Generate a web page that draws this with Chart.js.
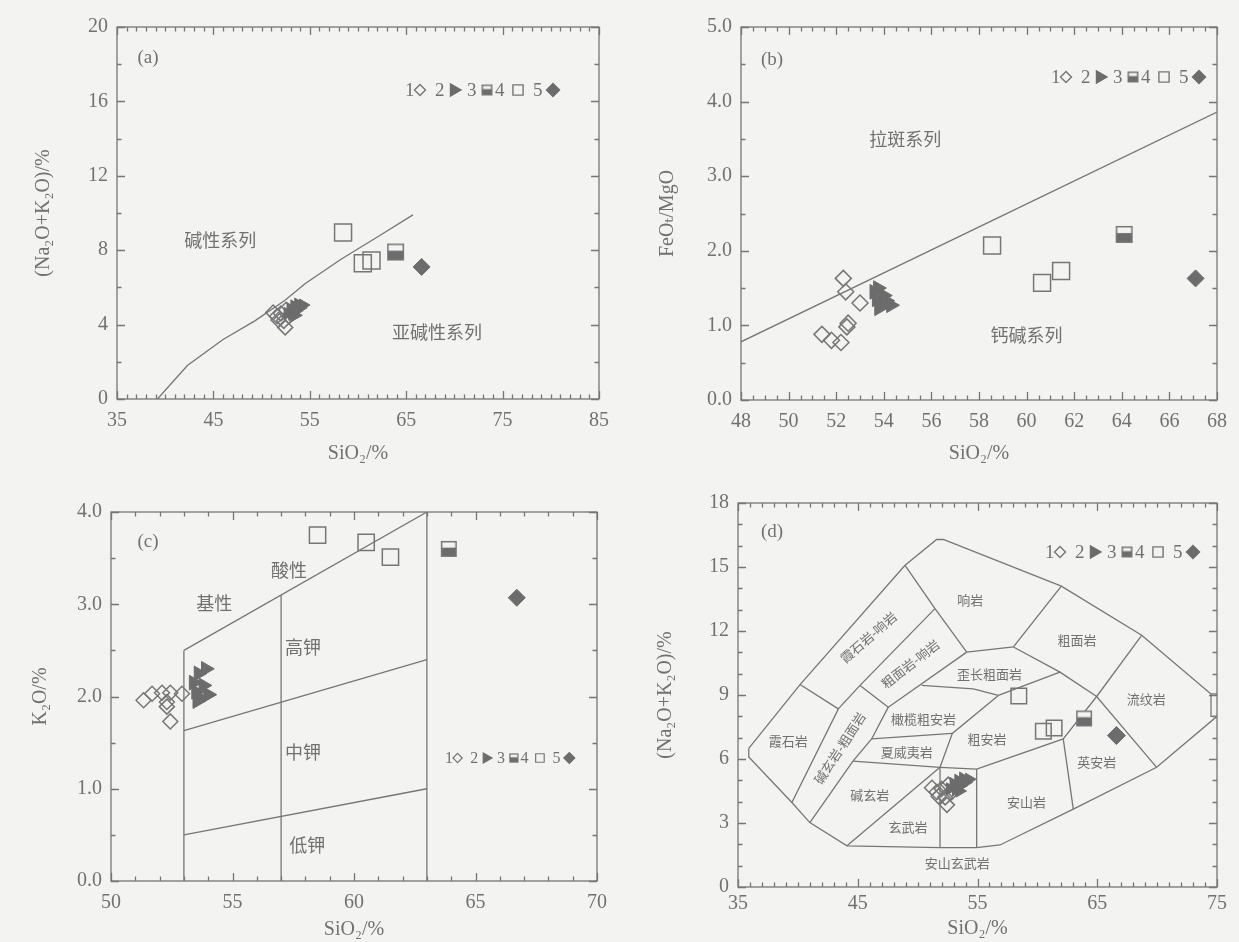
<!DOCTYPE html>
<html>
<head>
<meta charset="utf-8">
<title>SiO2 判别图</title>
<script src="https://cdn.jsdelivr.net/npm/chart.js@4/dist/chart.umd.min.js"></script>
<style>
  html, body { margin: 0; padding: 0; background: #f3f3f1; }
  #wrap { position: relative; width: 1239px; height: 942px; overflow: hidden; }
  canvas { position: absolute; display: block; }
</style>
</head>
<body>
<div id="wrap">
  <canvas id="pa" width="620" height="471" style="left:0;top:0;width:620px;height:471px"></canvas>
  <canvas id="pb" width="619" height="471" style="left:620px;top:0;width:619px;height:471px"></canvas>
  <canvas id="pc" width="620" height="471" style="left:0;top:471px;width:620px;height:471px"></canvas>
  <canvas id="pd" width="619" height="471" style="left:620px;top:471px;width:619px;height:471px"></canvas>
</div>
<script>
// ---------------- sample values: [SiO2 %, value] ----------------
// groups: 1 open diamond, 2 triangle, 3 half-filled square, 4 open square, 5 filled diamond

// SiO2 vs Na2O+K2O (panels a and d)
const alkG1 = [[51.2, 4.65], [51.6, 4.45], [51.75, 4.25], [52.0, 4.6], [52.3, 4.2], [52.45, 3.85], [52.55, 4.8], [52.85, 4.45]];
const alkG2 = [[52.7, 4.6], [53.0, 4.85], [53.2, 4.55], [53.4, 5.0], [53.6, 4.75], [53.8, 5.1], [54.0, 4.9], [54.3, 5.05], [53.5, 4.5]];
const alkG3 = [[63.9, 7.9]];
const alkG4 = [[58.45, 8.95], [60.5, 7.3], [61.4, 7.45]];
const alkG5 = [[66.6, 7.1]];

// SiO2 vs FeOt/MgO (panel b)
const feoG1 = [[52.3, 1.63], [52.4, 1.45], [53.0, 1.30], [52.5, 1.03], [52.45, 0.98], [51.4, 0.88], [51.8, 0.80], [52.2, 0.77]];
const feoG2 = [[53.6, 1.45], [53.7, 1.35], [53.75, 1.5], [53.9, 1.28], [54.0, 1.4], [54.1, 1.33], [54.3, 1.27], [53.8, 1.23]];
const feoG3 = [[64.1, 2.22]];
const feoG4 = [[58.55, 2.07], [60.65, 1.57], [61.45, 1.73]];
const feoG5 = [[67.1, 1.63]];

// SiO2 vs K2O (panel c)
const k2oG1 = [[51.34, 1.96], [51.69, 2.03], [52.1, 2.04], [52.44, 2.04], [52.92, 2.03], [52.3, 1.94], [52.3, 1.89], [52.44, 1.73]];
const k2oG2 = [[53.4, 2.15], [53.5, 2.05], [53.6, 2.25], [53.7, 1.98], [53.8, 2.12], [53.9, 2.3], [54.0, 2.02], [53.55, 1.95]];
const k2oG3 = [[63.9, 3.6]];
const k2oG4 = [[58.5, 3.75], [60.5, 3.67], [61.5, 3.51]];
const k2oG5 = [[66.7, 3.07]];

// ---------------- classification boundaries ----------------
// (a) alkaline / subalkaline divide
const alkDivide = [[39.2, 0], [42.3, 1.8], [46, 3.2], [49.3, 4.2], [52.4, 5.3], [54.5, 6.2], [58.2, 7.5], [62.3, 8.8], [65.7, 9.9]];
// (b) tholeiitic / calc-alkaline divide
const feoDivide = [[48, 0.78], [68, 3.86]];
// (c) K2O series fields
const kTop = [[53, 2.5], [63, 4.0]];
const kHigh = [[53, 1.63], [63, 2.4]];
const kLow = [[53, 0.5], [63, 1.0]];
const kV53 = [[53, 0], [53, 2.5]];
const kV57 = [[57, 0], [57, 3.1]];
const kV63 = [[63, 0], [63, 4.0]];
// (d) TAS fields
const tasOuter = [[35.9, 6.5], [40.18, 9.49], [48.95, 15.08], [51.59, 16.29], [52.15, 16.29], [62.0, 14.1], [68.71, 11.8],
                  [74.5, 9.05], [74.5, 8.0], [75, 8.0], [69.96, 5.61], [63.0, 3.65], [56.88, 1.97], [54.93, 1.85], [51.87, 1.85],
                  [44.1, 1.93], [41.0, 3.02], [39.5, 3.96], [35.9, 6.1], [35.9, 6.5]];
const tasNotch = [[74.5, 9.05], [75, 9.05]];
const tasLines = [
  [[48.95, 15.08], [51.45, 13.05], [54.1, 11.01]],
  [[54.1, 11.01], [58.0, 11.25], [62.0, 14.1]],
  [[58.0, 11.25], [61.89, 10.07], [64.95, 8.93], [69.96, 5.61]],
  [[64.95, 8.93], [68.71, 11.8]],
  [[51.45, 13.05], [45.19, 9.45], [43.38, 8.35], [39.5, 3.96]],
  [[40.18, 9.49], [43.38, 8.35]],
  [[45.19, 9.45], [47.55, 8.43], [54.1, 11.01]],
  [[47.55, 8.43], [46.16, 6.94], [44.6, 5.9], [41.0, 3.02]],
  [[50.34, 9.45], [54.65, 9.29], [56.74, 8.98]],
  [[56.74, 8.98], [61.89, 10.07]],
  [[56.74, 8.98], [52.9, 7.2], [51.87, 5.61]],
  [[46.16, 6.94], [52.9, 7.2]],
  [[44.6, 5.9], [51.87, 5.61]],
  [[51.87, 5.61], [54.93, 5.53], [62.16, 6.94], [64.95, 8.93]],
  [[62.16, 6.94], [63.0, 3.65]],
  [[51.87, 5.61], [51.87, 1.85]],
  [[54.93, 5.53], [54.93, 1.85]],
  [[51.87, 5.61], [44.1, 1.93]]
];

// ---------------- field names ----------------
const labelsA = [{ t: '碱性系列', x: 45.7, y: 8.55 }, { t: '亚碱性系列', x: 68.2, y: 3.6 }];
const labelsB = [{ t: '拉斑系列', x: 54.9, y: 3.49 }, { t: '钙碱系列', x: 60.0, y: 0.87 }];
const labelsC = [{ t: '基性', x: 54.25, y: 3.01 }, { t: '酸性', x: 57.33, y: 3.37 }, { t: '高钾', x: 57.9, y: 2.54 },
                 { t: '中钾', x: 57.9, y: 1.40 }, { t: '低钾', x: 58.08, y: 0.39 }];
const labelsD = [
  { t: '响岩', x: 54.4, y: 13.45 }, { t: '霞石岩-响岩', x: 45.9, y: 11.7, r: -41 }, { t: '粗面岩-响岩', x: 49.4, y: 10.45, r: -38 },
  { t: '粗面岩', x: 63.3, y: 11.56 }, { t: '歪长粗面岩', x: 56.0, y: 9.99 }, { t: '流纹岩', x: 69.1, y: 8.82 },
  { t: '橄榄粗安岩', x: 50.5, y: 7.88 }, { t: '霞石岩', x: 39.2, y: 6.86 }, { t: '碱玄岩-粗面岩', x: 43.5, y: 6.5, r: -57 },
  { t: '粗安岩', x: 55.8, y: 6.94 }, { t: '夏威夷岩', x: 49.1, y: 6.31 }, { t: '英安岩', x: 64.95, y: 5.84 },
  { t: '碱玄岩', x: 46.0, y: 4.3 }, { t: '安山岩', x: 59.1, y: 3.96 }, { t: '玄武岩', x: 49.2, y: 2.8 },
  { t: '安山玄武岩', x: 53.3, y: 1.14 }
];

// ---------------- styling ----------------
const BG = '#f3f3f1';
const INK = '#767676';
const FILL = '#6c6c6c';
const TEXT = '#717171';
const SERIF = "'Liberation Serif', 'DejaVu Serif', 'DejaVu Sans', serif";
const CJK = "'Noto Sans CJK SC', 'Noto Sans', sans-serif";
const NUM = 20;

function halfSquare(side) {
  const s = Math.ceil(side) + 2;
  const c = document.createElement('canvas');
  c.width = s; c.height = s;
  const g = c.getContext('2d');
  g.fillStyle = BG; g.fillRect(1, 1, side, side);
  g.fillStyle = FILL; g.fillRect(1, 1 + side * 0.42, side, side * 0.58);
  g.strokeStyle = INK; g.lineWidth = 1.5;
  g.strokeRect(1.75, 1.75, side - 1.5, side - 1.5);
  return c;
}

const pts = arr => arr.map(([x, y]) => ({ x, y }));

function markerSets(g1, g2, g3, g4, g5, sz) {
  return [
    { data: pts(g5), pointStyle: 'rectRot', pointRadius: sz.f, pointBackgroundColor: FILL, pointBorderColor: FILL, pointBorderWidth: 1 },
    { data: pts(g4), pointStyle: 'rect', pointRadius: sz.s, pointBackgroundColor: 'rgba(0,0,0,0)', pointBorderColor: INK, pointBorderWidth: 1.5 },
    { data: pts(g3), pointStyle: halfSquare(sz.h), pointRadius: sz.h / 2 },
    { data: pts(g2), pointStyle: 'triangle', pointRotation: 90, pointRadius: sz.t, pointBackgroundColor: FILL, pointBorderColor: FILL, pointBorderWidth: 1 },
    { data: pts(g1), pointStyle: 'rectRot', pointRadius: sz.d, pointBackgroundColor: 'rgba(0,0,0,0)', pointBorderColor: INK, pointBorderWidth: 1.5 }
  ];
}

function lineSet(poly) {
  return { data: pts(poly), showLine: true, pointRadius: 0, borderColor: INK, borderWidth: 1.3, tension: 0, fill: false };
}

// frame with inward major / minor ticks on all four sides
const frameTicks = {
  id: 'frameTicks',
  afterDatasetsDraw(chart, args, o) {
    const { ctx, chartArea: a, scales: { x, y } } = chart;
    const isMajor = (v, base, step) => Math.abs((v - base) / step - Math.round((v - base) / step)) < 1e-6;
    ctx.save();
    ctx.strokeStyle = INK;
    ctx.lineWidth = 1.3;
    ctx.strokeRect(a.left, a.top, a.right - a.left, a.bottom - a.top);
    ctx.beginPath();
    for (let i = 0; ; i++) {
      const v = x.min + i * o.xMinor;
      if (v > x.max + 1e-9) break;
      const len = isMajor(v, x.min, o.xMajor) ? 8 : 4.5;
      const px = Math.round(x.getPixelForValue(v)) + 0.5;
      ctx.moveTo(px, a.bottom); ctx.lineTo(px, a.bottom - len);
      ctx.moveTo(px, a.top); ctx.lineTo(px, a.top + len);
    }
    for (let i = 0; ; i++) {
      const v = y.min + i * o.yMinor;
      if (v > y.max + 1e-9) break;
      const len = isMajor(v, y.min, o.yMajor) ? 8 : 4.5;
      const py = Math.round(y.getPixelForValue(v)) + 0.5;
      ctx.moveTo(a.left, py); ctx.lineTo(a.left + len, py);
      ctx.moveTo(a.right, py); ctx.lineTo(a.right - len, py);
    }
    ctx.stroke();
    ctx.restore();
  }
};

// field names, panel tag and the symbol key
const annotate = {
  id: 'annotate',
  afterDatasetsDraw(chart, args, o) {
    const { ctx, scales: { x, y } } = chart;
    ctx.save();
    ctx.fillStyle = TEXT;
    ctx.textAlign = 'center';
    ctx.textBaseline = 'middle';
    (o.labels || []).forEach(l => {
      ctx.save();
      ctx.translate(x.getPixelForValue(l.x), y.getPixelForValue(l.y));
      if (l.r) ctx.rotate(l.r * Math.PI / 180);
      ctx.font = o.labelSize + 'px ' + CJK;
      ctx.fillText(l.t, 0, 0);
      ctx.restore();
    });
    ctx.font = '19px ' + SERIF;
    ctx.fillText(o.tag, o.tagX, o.tagY);

    // key: 1◇ 2▶ 3◪ 4□ 5◆
    ctx.save();
    ctx.translate(o.keyX, o.keyY);
    ctx.scale(o.keyScale || 1, o.keyScale || 1);
    ctx.font = '19px ' + SERIF;
    ctx.textAlign = 'left';
    const textX = [0, 30, 62, 90, 128];
    const markX = [15, 50, 82, 113, 148];
    const D = Chart.helpers.drawPoint;
    for (let i = 0; i < 5; i++) {
      ctx.fillStyle = TEXT;
      ctx.fillText(String(i + 1), textX[i], 1);
    }
    ctx.lineWidth = 1.4;
    ctx.strokeStyle = INK;
    ctx.fillStyle = 'rgba(0,0,0,0)';
    D(ctx, { pointStyle: 'rectRot', radius: 5.5, borderWidth: 1.4 }, markX[0], 0);
    ctx.fillStyle = FILL; ctx.strokeStyle = FILL;
    D(ctx, { pointStyle: 'triangle', rotation: 90, radius: 7, borderWidth: 1 }, markX[1] - 1, 0);
    D(ctx, { pointStyle: halfSquare(11), radius: 6 }, markX[2], 0);
    ctx.fillStyle = 'rgba(0,0,0,0)'; ctx.strokeStyle = INK;
    D(ctx, { pointStyle: 'rect', radius: 7.2, borderWidth: 1.4 }, markX[3], 0);
    ctx.fillStyle = FILL; ctx.strokeStyle = FILL;
    D(ctx, { pointStyle: 'rectRot', radius: 6.5, borderWidth: 1 }, markX[4], 0);
    ctx.restore();
    ctx.restore();
  }
};

function axis(opts) {
  return {
    type: 'linear',
    min: opts.min, max: opts.max,
    afterFit: s => { if (opts.w !== undefined) s.width = opts.w; if (opts.h !== undefined) s.height = opts.h; },
    grid: { display: false, drawTicks: false },
    border: { display: false },
    ticks: {
      stepSize: opts.step, padding: opts.pad, color: TEXT, autoSkip: false, maxRotation: 0,
      font: { family: SERIF, size: NUM },
      callback: opts.fmt || (v => String(v))
    },
    title: { display: true, text: opts.title, color: TEXT, font: { family: SERIF, size: NUM }, padding: opts.tpad }
  };
}

function makeChart(id, cfg) {
  return new Chart(document.getElementById(id), {
    type: 'scatter',
    data: { datasets: cfg.datasets },
    options: {
      responsive: false,
      animation: false,
      events: [],
      layout: { padding: cfg.padding },
      plugins: {
        legend: { display: false },
        tooltip: { enabled: false },
        frameTicks: cfg.ticks,
        annotate: cfg.annotate
      },
      scales: { x: cfg.x, y: cfg.y }
    },
    plugins: [frameTicks, annotate]
  });
}

const one = v => v.toFixed(1);

// (a) SiO2 – (Na2O+K2O)
makeChart('pa', {
  padding: { top: 27, right: 21, left: 0, bottom: 0 },
  datasets: [...markerSets(alkG1, alkG2, alkG3, alkG4, alkG5, { d: 7.5, t: 7, h: 17, s: 12, f: 8.5 }), lineSet(alkDivide)],
  x: axis({ min: 35, max: 85, step: 10, h: 72, pad: 10, title: 'SiO₂/%', tpad: { bottom: 5 } }),
  y: axis({ min: 0, max: 20, step: 4, w: 117, pad: 9, title: '(Na₂O+K₂O)/%', tpad: { top: 32 } }),
  ticks: { xMajor: 10, xMinor: 1, yMajor: 4, yMinor: 2 },
  annotate: { labels: labelsA, labelSize: 18, tag: '(a)', tagX: 148, tagY: 58, keyX: 405, keyY: 90 }
});

// (b) SiO2 – FeOt/MgO
makeChart('pb', {
  padding: { top: 27, right: 22, left: 0, bottom: 0 },
  datasets: [...markerSets(feoG1, feoG2, feoG3, feoG4, feoG5, { d: 8, t: 8.5, h: 17, s: 12, f: 8.5 }), lineSet(feoDivide)],
  x: axis({ min: 48, max: 68, step: 2, h: 71, pad: 10, title: 'SiO₂/%', tpad: { bottom: 5 } }),
  y: axis({ min: 0, max: 5, step: 1, w: 121, pad: 9, fmt: one, title: 'FeOₜ/MgO', tpad: { top: 36 } }),
  ticks: { xMajor: 2, xMinor: 0.5, yMajor: 1, yMinor: 0.5 },
  annotate: { labels: labelsB, labelSize: 18, tag: '(b)', tagX: 152, tagY: 60, keyX: 431, keyY: 77 }
});

// (c) SiO2 – K2O
makeChart('pc', {
  padding: { top: 41, right: 23, left: 0, bottom: 0 },
  datasets: [...markerSets(k2oG1, k2oG2, k2oG3, k2oG4, k2oG5, { d: 7.5, t: 8.5, h: 16, s: 11.5, f: 8.5 }),
             lineSet(kTop), lineSet(kHigh), lineSet(kLow), lineSet(kV53), lineSet(kV57), lineSet(kV63)],
  x: axis({ min: 50, max: 70, step: 5, h: 61, pad: 10, title: 'SiO₂/%', tpad: { bottom: 0 } }),
  y: axis({ min: 0, max: 4, step: 1, w: 111, pad: 9, fmt: one, title: 'K₂O/%', tpad: { top: 29 } }),
  ticks: { xMajor: 5, xMinor: 1, yMajor: 1, yMinor: 0.5 },
  annotate: { labels: labelsC, labelSize: 18, tag: '(c)', tagX: 148, tagY: 71, keyX: 445, keyY: 287, keyScale: 0.84 }
});

// (d) TAS classification
makeChart('pd', {
  padding: { top: 32, right: 22, left: 0, bottom: 0 },
  datasets: [...markerSets(alkG1, alkG2, alkG3, alkG4, alkG5, { d: 7.5, t: 7, h: 16, s: 11, f: 9 }),
             lineSet(tasOuter), lineSet(tasNotch), ...tasLines.map(lineSet)],
  x: axis({ min: 35, max: 75, step: 10, h: 55, pad: 5, title: 'SiO₂/%', tpad: { bottom: 1 } }),
  y: axis({ min: 0, max: 18, step: 3, w: 118, pad: 9, title: '(Na₂O+K₂O)/%', tpad: { top: 34 } }),
  ticks: { xMajor: 10, xMinor: 1, yMajor: 3, yMinor: 1 },
  annotate: { labels: labelsD, labelSize: 13, tag: '(d)', tagX: 152, tagY: 61, keyX: 425, keyY: 81 }
});
</script>
</body>
</html>
